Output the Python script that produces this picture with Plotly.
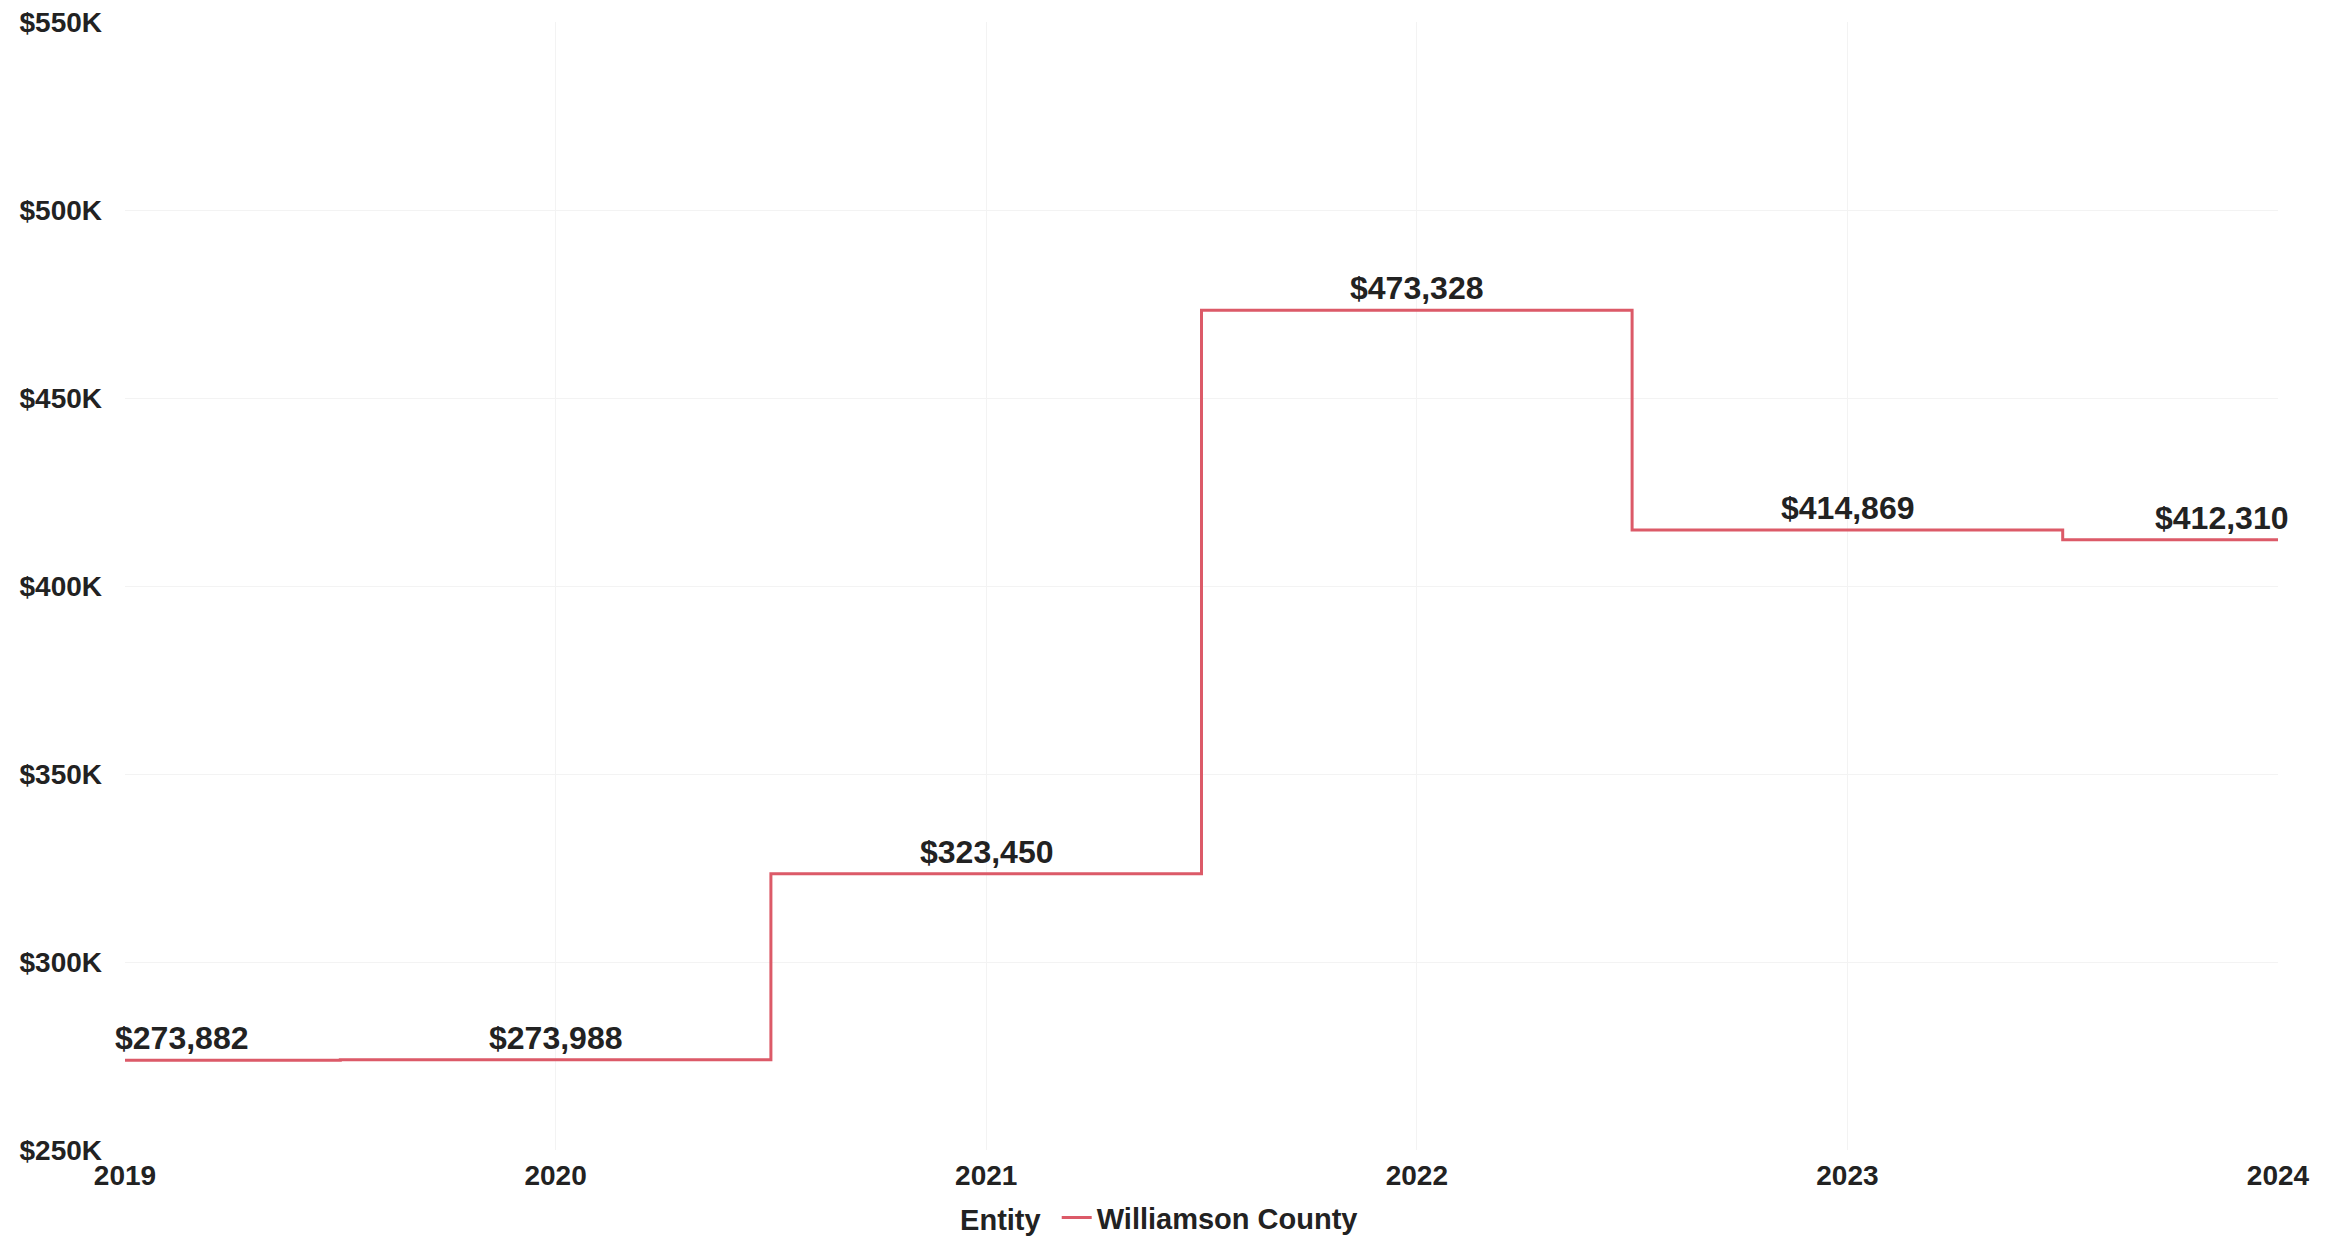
import plotly.graph_objects as go

years = [2019, 2020, 2021, 2022, 2023, 2024]
values = [273882, 273988, 323450, 473328, 414869, 412310]
entity = "Williamson County"
y_ticks = [250000, 300000, 350000, 400000, 450000, 500000, 550000]
y_tick_labels = ["$250K", "$300K", "$350K", "$400K", "$450K", "$500K", "$550K"]

FONT = "Liberation Sans"
TXT = "#222222"
LINE = "#dc5a68"

fig = go.Figure()
fig.add_trace(go.Scatter(
    x=years, y=values, mode="lines", name=entity,
    line=dict(color=LINE, width=3, shape="hvh"),
))

n = len(years)
for i, (x, y) in enumerate(zip(years, values)):
    if i == 0:
        xa, xs = "left", -12
    elif i == n - 1:
        xa, xs = "right", 12
    else:
        xa, xs = "center", 0
    fig.add_annotation(
        x=x, y=y, text=f"${y:,.0f}", showarrow=False,
        xanchor=xa, yanchor="bottom", xshift=xs, yshift=2,
        font=dict(family=FONT, size=32, color=TXT, weight="bold"),
    )

fig.update_layout(
    width=2330, height=1241,
    margin=dict(l=125, r=52, t=22, b=91, autoexpand=False),
    plot_bgcolor="white", paper_bgcolor="white",
    font=dict(family=FONT, size=28, color=TXT, weight="bold"),
    showlegend=True,
    legend=dict(
        orientation="h", x=0.481, xanchor="center", y=-0.06, yanchor="middle",
        title=dict(text="Entity ", font=dict(family=FONT, size=29, color=TXT, weight="bold")),
        font=dict(family=FONT, size=29, color=TXT, weight="bold"),
    ),
    xaxis=dict(
        range=[2019, 2024], tickvals=years, ticktext=[str(y) for y in years],
        showgrid=True, gridcolor="#f3f3f3", zeroline=False, showline=False,
        ticks="", ticklabelstandoff=6,
        tickfont=dict(family=FONT, size=28, color=TXT, weight="bold"),
    ),
    yaxis=dict(
        range=[250000, 550000], tickvals=y_ticks, ticktext=y_tick_labels,
        showgrid=True, gridcolor="#f3f3f3", zeroline=False, showline=False,
        ticks="", ticklabelstandoff=22,
        tickfont=dict(family=FONT, size=28, color=TXT, weight="bold"),
    ),
)

fig.write_html("out.html")
